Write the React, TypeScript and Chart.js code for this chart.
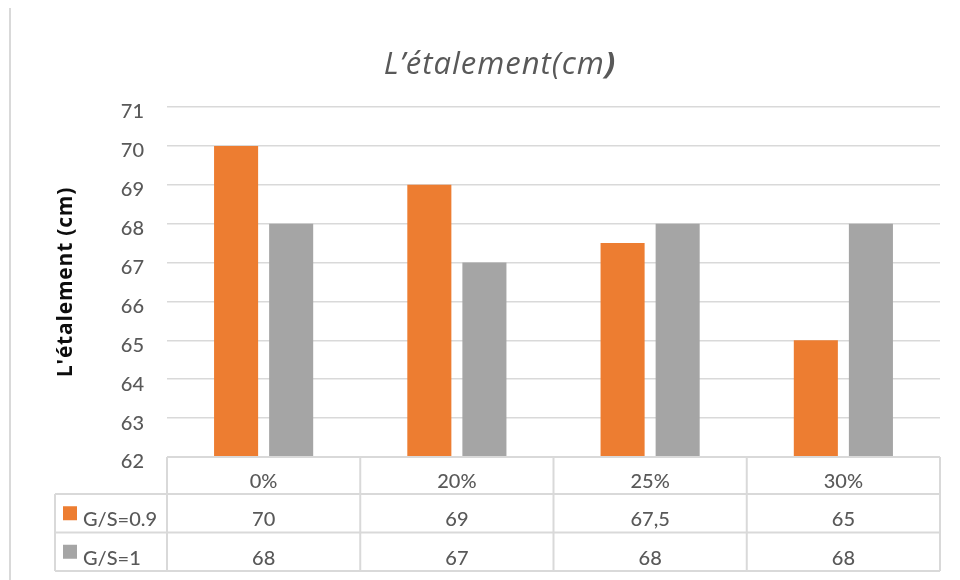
import React, { useEffect, useRef } from "react";
import { Chart, registerables } from "chart.js";

Chart.register(...registerables);

// Data
const categories = ["0%", "20%", "25%", "30%"];
const seriesNames = ["G/S=0.9", "G/S=1"];
const valuesGS09 = [70, 69, 67.5, 65];
const valuesGS1 = [68, 67, 68, 68];
const seriesColors = ["#ED7D31", "#A5A5A5"];
const yMin = 62;
const yMax = 71;
const titleMain = "L’étalement(cm";
const titleClose = ")";
const yAxisTitle = "L'étalement (cm)";

const FONT = "Lato, 'Open Sans', sans-serif";
const TITLE_FONT = "'Open Sans', Lato, sans-serif";
const TEXT_GREY = "#595959";
const LINE_GREY = "#d9d9d9";

const fmt = (v: number) => String(v).replace(".", ",");

// Header row and series rows of the data table under the plot
const HEADER_H = 37;
const ROW_H = 38.5;
const LEGEND_LEFT = 55;

const decorPlugin = {
  id: "decor",
  beforeDraw(chart: any) {
    const { ctx } = chart;
    ctx.save();
    ctx.fillStyle = "#ffffff";
    ctx.fillRect(0, 0, chart.width, chart.height);
    // left edge of the chart frame
    ctx.strokeStyle = LINE_GREY;
    ctx.lineWidth = 2;
    ctx.beginPath();
    ctx.moveTo(10, 8);
    ctx.lineTo(10, chart.height);
    ctx.stroke();
    ctx.restore();
  },
  afterDraw(chart: any) {
    const { ctx, chartArea } = chart;
    const xs = chart.scales.x;
    ctx.save();

    // Title: italic text with a bold closing parenthesis
    ctx.letterSpacing = "1px";
    const fMain = `italic 31px ${TITLE_FONT}`;
    const fBold = `italic bold 31px ${TITLE_FONT}`;
    ctx.font = fMain;
    const w1 = ctx.measureText(titleMain).width;
    ctx.font = fBold;
    const w2 = ctx.measureText(titleClose).width;
    const tx = 500 - (w1 + w2) / 2;
    const ty = 74;
    ctx.fillStyle = TEXT_GREY;
    ctx.textBaseline = "alphabetic";
    ctx.textAlign = "left";
    ctx.font = fMain;
    ctx.fillText(titleMain, tx, ty);
    ctx.font = fBold;
    ctx.fillText(titleClose, tx + w1, ty);

    // Vertical axis title
    ctx.save();
    ctx.letterSpacing = "0.8px";
    ctx.font = `bold 21px ${TITLE_FONT}`;
    ctx.fillStyle = "#0d0d0d";
    ctx.textAlign = "center";
    ctx.textBaseline = "middle";
    ctx.translate(66, (chartArea.top + chartArea.bottom) / 2);
    ctx.rotate(-Math.PI / 2);
    ctx.fillText(yAxisTitle, 0, 0);
    ctx.restore();

    ctx.letterSpacing = "0px";

    // Data table
    const n = categories.length;
    const left = xs.left;
    const right = xs.right;
    const colW = (right - left) / n;
    const top = chartArea.bottom;
    const headerBottom = top + HEADER_H;
    const rowTops = seriesNames.map((_, i) => headerBottom + i * ROW_H);
    const bottom = headerBottom + seriesNames.length * ROW_H;

    ctx.strokeStyle = LINE_GREY;
    ctx.lineWidth = 2;
    ctx.beginPath();
    ctx.moveTo(left, top);
    ctx.lineTo(right, top);
    for (let r = 0; r <= seriesNames.length; r++) {
      const y = headerBottom + r * ROW_H;
      ctx.moveTo(LEGEND_LEFT, y);
      ctx.lineTo(right, y);
    }
    for (let c = 0; c <= n; c++) {
      const x = left + c * colW;
      ctx.moveTo(x, top);
      ctx.lineTo(x, bottom);
    }
    ctx.moveTo(LEGEND_LEFT, headerBottom);
    ctx.lineTo(LEGEND_LEFT, bottom);
    ctx.stroke();

    ctx.font = `500 20px ${FONT}`;
    ctx.fillStyle = TEXT_GREY;
    ctx.textAlign = "center";
    ctx.textBaseline = "alphabetic";
    categories.forEach((c, i) => {
      ctx.fillText(c, xs.getPixelForValue(i), top + 31);
    });

    const seriesValues = [valuesGS09, valuesGS1];
    seriesNames.forEach((name, r) => {
      const rt = rowTops[r];
      const baseline = rt + 32;
      ctx.fillStyle = seriesColors[r];
      ctx.fillRect(63, rt + ROW_H / 2 - 7, 14, 14);
      ctx.fillStyle = TEXT_GREY;
      ctx.textAlign = "left";
      ctx.fillText(name, 83, baseline);
      ctx.textAlign = "center";
      seriesValues[r].forEach((v, i) => {
        ctx.fillText(fmt(v), xs.getPixelForValue(i), baseline);
      });
    });

    ctx.restore();
  },
};

export default function App() {
  const canvasRef = useRef<HTMLCanvasElement | null>(null);

  useEffect(() => {
    const canvas = canvasRef.current;
    if (!canvas) return;
    const chart = new Chart(canvas, {
      type: "bar",
      data: {
        labels: categories,
        datasets: [
          {
            label: seriesNames[0],
            data: valuesGS09,
            backgroundColor: seriesColors[0],
            categoryPercentage: 0.57,
            barPercentage: 0.8,
          },
          {
            label: seriesNames[1],
            data: valuesGS1,
            backgroundColor: seriesColors[1],
            categoryPercentage: 0.57,
            barPercentage: 0.8,
          },
        ],
      },
      options: {
        responsive: false,
        animation: false,
        devicePixelRatio: 1,
        layout: { padding: { left: 0, top: 107, right: 20, bottom: 123 } },
        plugins: {
          legend: { display: false },
          title: { display: false },
          tooltip: { enabled: false },
        },
        scales: {
          x: {
            display: false,
          },
          y: {
            min: yMin,
            max: yMax,
            afterFit(scale: any) {
              scale.width = 167;
            },
            border: { display: false },
            grid: { color: LINE_GREY, lineWidth: 1.5, drawTicks: false },
            ticks: {
              stepSize: 1,
              padding: 23,
              labelOffset: 5,
              color: TEXT_GREY,
              font: { family: FONT, size: 20, weight: "500" },
            },
          },
        },
      },
      plugins: [decorPlugin],
    });
    return () => chart.destroy();
  }, []);

  return (
    <div style={{ position: "fixed", left: 0, top: 0, width: 960, height: 580, background: "#fff" }}>
      <canvas ref={canvasRef} width={960} height={580} />
    </div>
  );
}
